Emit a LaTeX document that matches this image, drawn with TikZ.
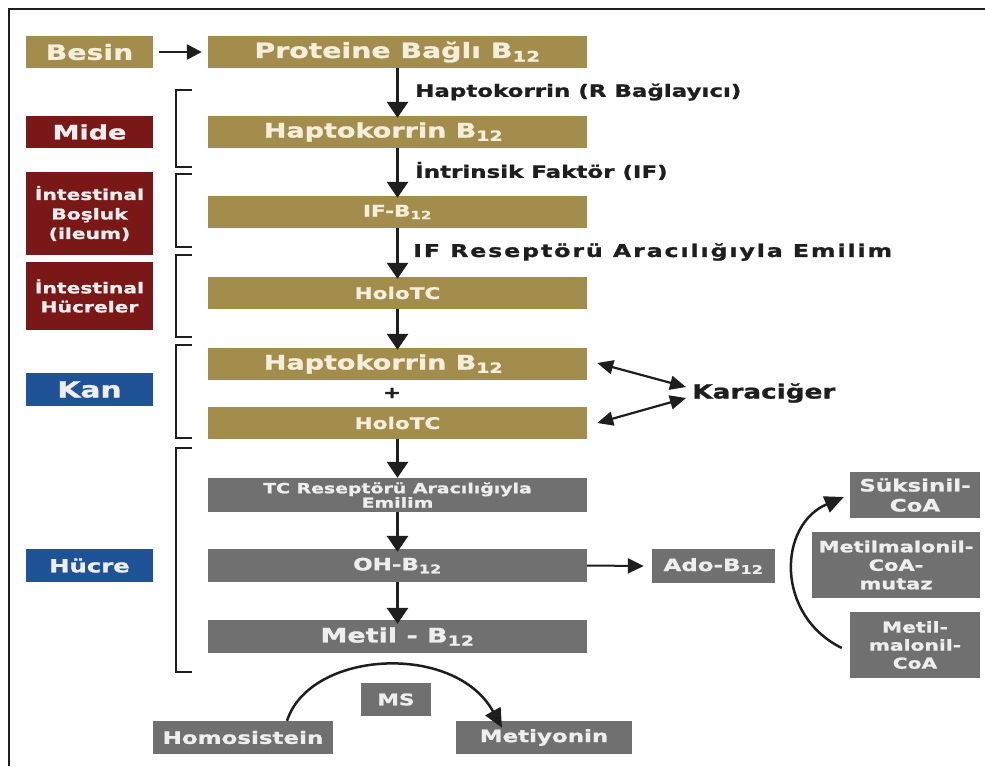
\documentclass[tikz,border=0pt]{standalone}
\usepackage{fontspec}
\setmainfont{DejaVu Sans Bold}[FakeStretch=1.35,FakeBold=1.2]
\usetikzlibrary{arrows.meta}
\definecolor{olive}{RGB}{163,141,76}
\definecolor{cream}{RGB}{245,238,218}
\definecolor{darkred}{RGB}{122,24,24}
\definecolor{kanblue}{RGB}{32,82,152}
\definecolor{boxgray}{RGB}{112,112,112}
\definecolor{lightt}{RGB}{238,238,238}
\definecolor{ink}{RGB}{30,30,30}
\newcommand{\fs}[2]{\fontsize{#1}{#2}\selectfont}
\begin{document}
\begin{tikzpicture}[x=1pt,y=-1pt,
  base/.style={inner sep=0pt, align=center},
  obox/.style={base, fill=olive, text=cream},
  rbox/.style={base, fill=darkred, text=lightt},
  bbox/.style={base, fill=kanblue, text=lightt},
  gbox/.style={base, fill=boxgray, text=lightt},
  lbl/.style={inner sep=0pt, anchor=west, text=ink},
  down/.style={-{Triangle[width=21pt,length=16pt]}, line width=3pt, ink},
  dbl/.style={{Triangle[width=14pt,length=16pt]}-{Triangle[width=14pt,length=16pt]}, line width=2.2pt, ink},
  curv/.style={-{Triangle[width=17pt,length=19pt]}, line width=2.5pt, ink},
  brk/.style={line width=2pt, ink},
]
\useasboundingbox (0,0) rectangle (985,766);
\fill[white] (0,0) rectangle (985,766);
% frame
\draw[line width=2pt, ink] (9,766) -- (9,9) -- (985,9);

% left column
\node[obox, minimum width=127pt, minimum height=32pt, font=\fs{21}{24}] (besin) at (89.5,52) {Besin};
\node[rbox, minimum width=127pt, minimum height=32pt, font=\fs{20}{24}] (mide) at (89.5,132) {Mide};
\node[rbox, minimum width=127pt, minimum height=83pt, font=\fs{15}{19.5}] (ib) at (89.5,213.5) {İntestinal\\Boşluk\\(ileum)};
\node[rbox, minimum width=127pt, minimum height=68pt, font=\fs{15}{19}] (ih) at (89.5,296) {İntestinal\\Hücreler};
\node[bbox, minimum width=127pt, minimum height=33pt, font=\fs{22}{24}] (kan) at (89.5,389.5) {Kan};
\node[bbox, minimum width=127pt, minimum height=33pt, font=\fs{18}{20}] (hucre) at (89.5,565.5) {Hücre};

% main column
\node[obox, minimum width=379pt, minimum height=32pt, font=\fs{21}{24}] (pb) at (397.5,52) {Proteine Bağlı B\textsubscript{12}};
\node[obox, minimum width=379pt, minimum height=32pt, font=\fs{20}{24}] (hb1) at (397.5,132) {\hspace*{-28pt}Haptokorrin B\textsubscript{12}};
\node[obox, minimum width=379pt, minimum height=32pt, font=\fs{16}{20}] (ifb) at (397.5,212) {IF-B\textsubscript{12}};
\node[obox, minimum width=379pt, minimum height=32pt, font=\fs{16}{20}] (holo1) at (397.5,293) {HoloTC};
\node[obox, minimum width=379pt, minimum height=32pt, font=\fs{20}{24}] (hb2) at (397.5,364) {\hspace*{-28pt}Haptokorrin B\textsubscript{12}};
\node[inner sep=0pt, text=ink, font=\fs{16}{20}] (plus) at (392,393) {+};
\node[obox, minimum width=379pt, minimum height=32pt, font=\fs{16}{20}] (holo2) at (397.5,423) {HoloTC};
\node[gbox, minimum width=379pt, minimum height=34pt, font=\fs{14}{14.5}] (tc) at (397.5,495) {TC Reseptörü Aracılığıyla\\Emilim};
\node[gbox, minimum width=379pt, minimum height=33pt, font=\fs{17}{20}] (oh) at (397.5,565.5) {OH-B\textsubscript{12}};
\node[gbox, minimum width=379pt, minimum height=33pt, font=\fs{20}{24}] (metil) at (397.5,636.5) {Metil - B\textsubscript{12}};

% right side
\node[gbox, minimum width=123pt, minimum height=34pt, font=\fs{17}{20}] (ado) at (713.5,566) {Ado-B\textsubscript{12}};
\node[gbox, minimum width=130pt, minimum height=46pt, font=\fs{17}{20}] (suk) at (915,495) {Süksinil-\\CoA};
\node[gbox, minimum width=168pt, minimum height=66pt, font=\fs{15.5}{18.5}] (mut) at (896,565) {Metilmalonil-\\CoA-\\mutaz};
\node[gbox, minimum width=130pt, minimum height=66pt, font=\fs{15}{18}] (mm) at (915,645) {Metil-\\malonil-\\CoA};
\node[lbl, font=\fs{19.5}{22}] (kar) at (692,393) {Karaciğer};

% bottom
\node[gbox, minimum width=180pt, minimum height=33pt, font=\fs{17}{20}] (homo) at (243,737.5) {Homosistein};
\node[gbox, minimum width=176pt, minimum height=33pt, font=\fs{17}{20}] (meti) at (544,737.5) {Metiyonin};
\node[gbox, minimum width=70pt, minimum height=33pt, font=\fs{16}{20}] (ms) at (396,699.5) {MS};

% labels for arrows
\node[lbl, font=\fs{17}{20}] (l1) at (415,92) {Haptokorrin (R Bağlayıcı)};
\node[lbl, font=\fs{17}{20}] (l2) at (415,171) {İntrinsik Faktör (IF)};
\node[lbl, font=\fs{17.5}{20}\addfontfeatures{LetterSpace=11}] (l3) at (413,252) {IF Reseptörü Aracılığıyla Emilim};

% arrows
\draw[-{Triangle[width=15pt,length=15pt]}, line width=2.5pt, ink] (besin.east) ++(6pt,0) -- ([xshift=-6pt]pb.west);
\draw[down] (pb.south) -- ([yshift=-2pt]hb1.north);
\draw[down] (hb1.south) -- ([yshift=-2pt]ifb.north);
\draw[down] (ifb.south) -- ([yshift=-2pt]holo1.north);
\draw[down] (holo1.south) -- ([yshift=-2pt]hb2.north);
\draw[down] (holo2.south) -- (tc.north);
\draw[down] (tc.south) -- ([yshift=-3pt]oh.north);
\draw[down] (oh.south) -- ([yshift=-4pt]metil.north);
\draw[-{Triangle[width=15pt,length=16pt]}, line width=2pt, ink] (oh.east) -- ([xshift=-8pt]ado.west);
\coordinate (k1) at (686,387);
\coordinate (k2) at (686,398);
\draw[dbl] ([xshift=10pt,yshift=1pt]hb2.east) -- (k1);
\draw[dbl] ([xshift=10pt]holo2.east) -- (k2);
\draw[curv] ([xshift=-8pt,yshift=-3pt]mm.west) .. controls (775,615) and (778,525) .. ([xshift=-6pt,yshift=-2pt]suk.west);
\draw[curv] ([xshift=44pt]homo.north) .. controls (310,650) and (455,642) .. ([xshift=-42pt,yshift=-7pt]meti.north);

% brackets
\draw[brk] (192,90) -- (176,90) -- (176,167) -- (192,167);
\draw[brk] (192,174) -- (176,174) -- (176,247) -- (192,247);
\draw[brk] (192,255) -- (176,255) -- (176,337) -- (192,337);
\draw[brk] (192,345) -- (176,345) -- (176,438) -- (192,438);
\draw[brk] (192,448) -- (176,448) -- (176,672) -- (192,672);
\end{tikzpicture}
\end{document}
